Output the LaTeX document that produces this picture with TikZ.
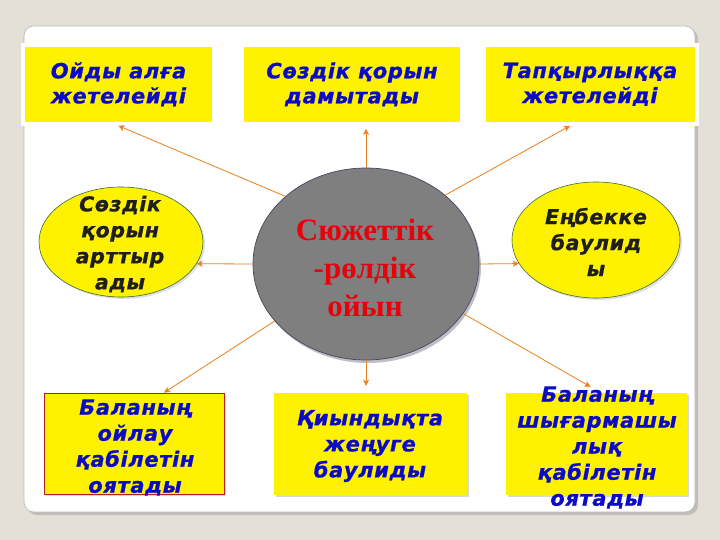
\documentclass[tikz,border=0pt]{standalone}
\usepackage{fontspec}
\newfontfamily\vfont[LetterSpace=3, BoldItalicFeatures={FakeBold=0.8}]{DejaVu Sans}
\newfontfamily\tfont{Liberation Serif}
\usetikzlibrary{arrows.meta,shapes.geometric,shadows}
\definecolor{bgc}{HTML}{E4DFD7}
\definecolor{txtblue}{HTML}{0A0AC8}
\definecolor{arr}{HTML}{E8801E}
\definecolor{cgray}{HTML}{7F7F7F}
\definecolor{cedge}{HTML}{46465E}
\definecolor{eedge}{HTML}{3A6B35}
\definecolor{redge}{HTML}{B22222}
\definecolor{dtext}{HTML}{1E1E1E}
\definecolor{hubred}{HTML}{E8000A}
\begin{document}
\begin{tikzpicture}[x=1pt,y=-1pt,
  panel/.style={rectangle, fill=white, draw=gray!55, line width=0.6pt, rounded corners=10pt, inner sep=0,
    drop shadow={shadow xshift=3pt, shadow yshift=-3pt, opacity=0.35}},
  topbox/.style={rectangle, fill=yellow, draw=white, line width=4pt, inner sep=0, align=center,
    font=\vfont\bfseries\itshape\fontsize{21}{25}\selectfont, text=txtblue,
    drop shadow={shadow xshift=2pt, shadow yshift=-2pt, opacity=0.3}},
  botbox/.style={rectangle, fill=yellow, inner sep=0,
    drop shadow={shadow xshift=2pt, shadow yshift=-2pt, opacity=0.3}},
  bluetxt/.style={inner sep=0, align=center, text=txtblue,
    font=\vfont\bfseries\itshape\fontsize{21}{26}\selectfont},
  yell/.style={ellipse, fill=yellow, draw=eedge, line width=0.6pt, inner sep=0,
    drop shadow={shadow xshift=2pt, shadow yshift=-2pt, opacity=0.25}},
  darktxt/.style={inner sep=0, align=center, text=dtext,
    font=\vfont\bfseries\itshape\fontsize{20.5}{26}\selectfont},
  hub/.style={ellipse, fill=cgray, draw=cedge, line width=0.7pt, inner sep=0,
    drop shadow={shadow xshift=2pt, shadow yshift=-3pt, opacity=0.35, fill=cedge}},
  hubtxt/.style={inner sep=0, align=center, text=hubred,
    font=\tfont\bfseries\fontsize{31}{38}\selectfont},
  conn/.style={draw=arr, line width=0.8pt, -{Stealth[length=6pt,width=6pt,inset=1.5pt]}}
]
\useasboundingbox[fill=bgc] (0,0) rectangle (720,540);

\node[panel, minimum width=671pt, minimum height=486pt] (panel) at (359.5,269) {};

% top boxes
\node[topbox, minimum width=191pt, minimum height=79pt] (t1) at (118.5,84.3) {Ойды алға\\жетелейді};
\node[topbox, minimum width=220pt, minimum height=79pt] (t2) at (352,84.3) {Сөздік қорын\\дамытады};
\node[topbox, minimum width=213pt, minimum height=79pt] (t3) at (590,84.3) {Тапқырлыққа\\жетелейді};

% ellipses
\node[hub, minimum width=226pt, minimum height=192pt] (c) at (366,264) {};
\node[hubtxt] (ct) at (365,268) {Сюжеттік\\-рөлдік\\ойын};

\node[yell, minimum width=164pt, minimum height=110pt] (le) at (121,242) {};
\node[darktxt] (lt) at (120,244) {Сөздік\\қорын\\арттыр\\ады};

\node[yell, minimum width=168pt, minimum height=116pt] (re) at (596,240) {};
\node[darktxt] (rt) at (596,242) {Еңбекке\\баулид\\ы};

% bottom boxes
\node[botbox, draw=redge, line width=0.8pt, minimum width=180pt, minimum height=101pt] (bl) at (134,443.5) {};
\node[bluetxt] (blt) at (135,447.5) {Баланың\\ойлау\\қабілетін\\оятады};

\node[botbox, minimum width=193pt, minimum height=102pt] (bm) at (370.5,444) {};
\node[bluetxt] (bmt) at (370,446) {Қиындықта\\жеңуге\\баулиды};

\node[botbox, minimum width=181pt, minimum height=102pt] (br) at (596.5,444) {};
\node[bluetxt] (brt) at (597,447.5) {Баланың\\шығармашы\\лық\\қабілетін\\оятады};

% connectors
\draw[conn] (c.140) -- (t1.south);
\draw[conn, shorten >=3pt] (c.north) -- (c.north |- t2.south);
\draw[conn] (c.41) -- ([xshift=-20pt]t3.south);
\draw[conn] (c.west) -- (le.-16);
\draw[conn] (c.east) -- (re.197);
\draw[conn] (c.212) -- ([xshift=30pt]bl.north);
\draw[conn, shorten >=7pt] (c.south) -- (c.south |- bm.north);
\draw[conn] (c.333) -- ([xshift=-6pt,yshift=6pt]br.north);
\end{tikzpicture}
\end{document}
